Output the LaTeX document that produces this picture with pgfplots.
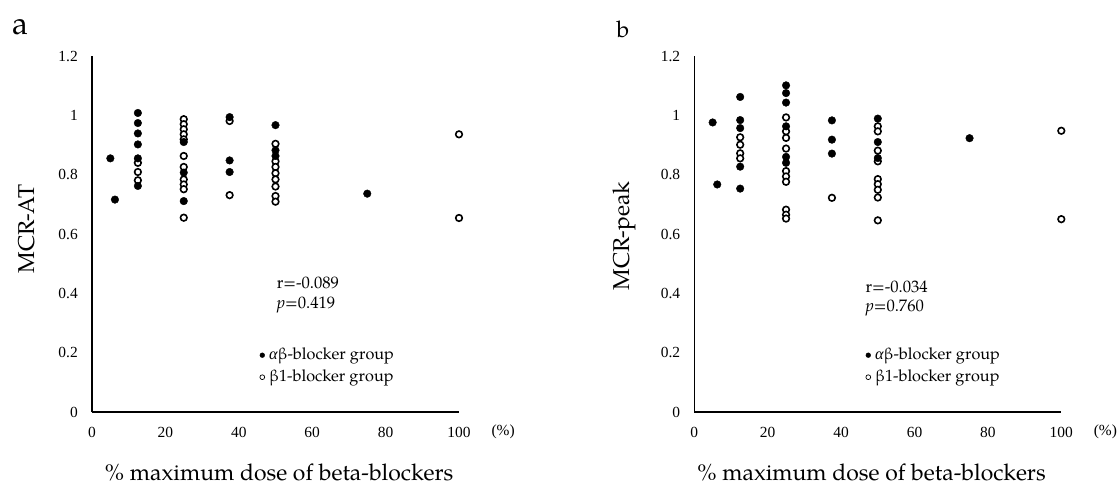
\documentclass[border=0pt]{standalone}
\usepackage{fontspec}
\setmainfont{TeX Gyre Pagella}
\newfontfamily\tms{Liberation Serif}
\usepackage{pgfplots}
\pgfplotsset{compat=1.18}

\pgfplotsset{
  mcr/.style={
    scale only axis, width=367bp, height=356bp,
    xmin=0, xmax=100, ymin=0, ymax=1.2,
    xtick={0,20,40,60,80,100}, ytick={0,0.2,0.4,0.6,0.8,1,1.2},
    axis lines=left, axis line style={-, line width=1.3bp, black},
    major tick length=0pt, clip=false,
    /pgf/number format/assume math mode=true,
    tick label style={font=\tms\fontsize{15.5}{19}\selectfont, inner sep=0pt},
    yticklabel style={xshift=-14bp},
    xticklabel style={yshift=-15bp},
    label style={font=\fontsize{23}{27}\selectfont},
    reverse legend,
    legend cell align=left,
    legend style={draw=none, fill=none, anchor=north west, inner sep=0pt,
      font=\fontsize{16.3}{20}\selectfont, row sep=6bp,
      nodes={inner sep=0pt, text height=12bp, text depth=4bp}},
  },
  filled/.style={only marks, mark=*, mark size=3.8bp, black,
    legend image code/.code={\fill[black] (2.4bp,0bp) circle (2.4bp); \path (0bp,0bp) (9bp,0bp);}},
  open/.style={only marks, mark=*, mark size=3.3bp, black,
    mark options={fill=white, line width=1.6bp},
    legend image code/.code={\draw[black, line width=0.7bp] (2.4bp,0bp) circle (2.4bp); \path (0bp,0bp) (9bp,0bp);}},
}

\begin{document}
\begin{tikzpicture}
\useasboundingbox (0,0) rectangle (1117bp,-488bp);
\node[font=\fontsize{32}{36}\selectfont] at (20bp,-27bp) {a};
\node[font=\fontsize{23}{27}\selectfont] at (623bp,-29bp) {b};

% panel a
\begin{axis}[mcr, at={(92bp,-412bp)}, anchor=south west,
    xlabel={\% maximum dose of beta-blockers}, ylabel={MCR-AT},
    xlabel style={at={(axis description cs:0.51,-0.169)}, anchor=center},
    ylabel style={at={(axis description cs:-0.177,0.515)}, anchor=center},
    legend style={at={(rel axis cs:0.456,0.1826)}}]
\addplot[open] coordinates {
 (12.5,0.840) (12.5,0.809) (12.5,0.781)
 (25,0.987) (25,0.970) (25,0.953) (25,0.936) (25,0.919) (25,0.863) (25,0.826)
 (25,0.784) (25,0.767) (25,0.751) (25,0.655)
 (37.5,0.981) (37.5,0.731)
 (50,0.904) (50,0.845) (50,0.826) (50,0.805) (50,0.784) (50,0.760) (50,0.728) (50,0.709)
 (100,0.936) (100,0.654)};
\addlegendentry{β1-blocker group}
\addplot[filled] coordinates {
 (5,0.855) (6.25,0.716)
 (12.5,1.008) (12.5,0.974) (12.5,0.939) (12.5,0.902) (12.5,0.855) (12.5,0.762)
 (25,0.910) (25,0.807) (25,0.711)
 (37.5,0.994) (37.5,0.848) (37.5,0.809)
 (50,0.967) (50,0.882) (50,0.863)
 (75,0.736)};
\addlegendentry{{\tms\itshape α}β-blocker group}
\node[anchor=west, font=\fontsize{16.7}{20}\selectfont] at (rel axis cs:0.494,0.3615) {r=-0.089};
\node[anchor=west, font=\fontsize{16.7}{20}\selectfont] at (rel axis cs:0.494,0.300) {\textit{p}=0.419};
\node[anchor=west, font=\tms\fontsize{15.5}{19}\selectfont] at (rel axis cs:1,0) [xshift=29bp, yshift=-20bp] {(\%)};
\end{axis}

% panel b
\begin{axis}[mcr, at={(694.3bp,-412bp)}, anchor=south west,
    xlabel={\% maximum dose of beta-blockers}, ylabel={MCR-peak},
    xlabel style={at={(axis description cs:0.483,-0.169)}, anchor=center},
    ylabel style={at={(axis description cs:-0.19,0.495)}, anchor=center},
    legend style={at={(rel axis cs:0.466,0.1826)}}]
\addplot[open] coordinates {
 (12.5,0.926) (12.5,0.901) (12.5,0.872) (12.5,0.855)
 (25,0.993) (25,0.946) (25,0.924) (25,0.888) (25,0.812) (25,0.794) (25,0.776)
 (25,0.682) (25,0.665) (25,0.652)
 (37.5,0.722)
 (50,0.963) (50,0.946) (50,0.881) (50,0.845) (50,0.785) (50,0.768) (50,0.749) (50,0.723) (50,0.646)
 (100,0.948) (100,0.650)};
\addlegendentry{β1-blocker group}
\addplot[filled] coordinates {
 (5,0.976) (6.25,0.767)
 (12.5,1.062) (12.5,0.984) (12.5,0.957) (12.5,0.827) (12.5,0.753)
 (25,1.101) (25,1.075) (25,1.043) (25,0.963) (25,0.860) (25,0.840)
 (37.5,0.983) (37.5,0.918) (37.5,0.871)
 (50,0.989) (50,0.910) (50,0.856)
 (75,0.923)};
\addlegendentry{{\tms\itshape α}β-blocker group}
\node[anchor=west, font=\fontsize{16.7}{20}\selectfont] at (rel axis cs:0.457,0.351) {r=-0.034};
\node[anchor=west, font=\fontsize{16.7}{20}\selectfont] at (rel axis cs:0.457,0.292) {\textit{p}=0.760};
\node[anchor=west, font=\tms\fontsize{15.5}{19}\selectfont] at (rel axis cs:1,0) [xshift=29bp, yshift=-20bp] {(\%)};
\end{axis}
\end{tikzpicture}
\end{document}
